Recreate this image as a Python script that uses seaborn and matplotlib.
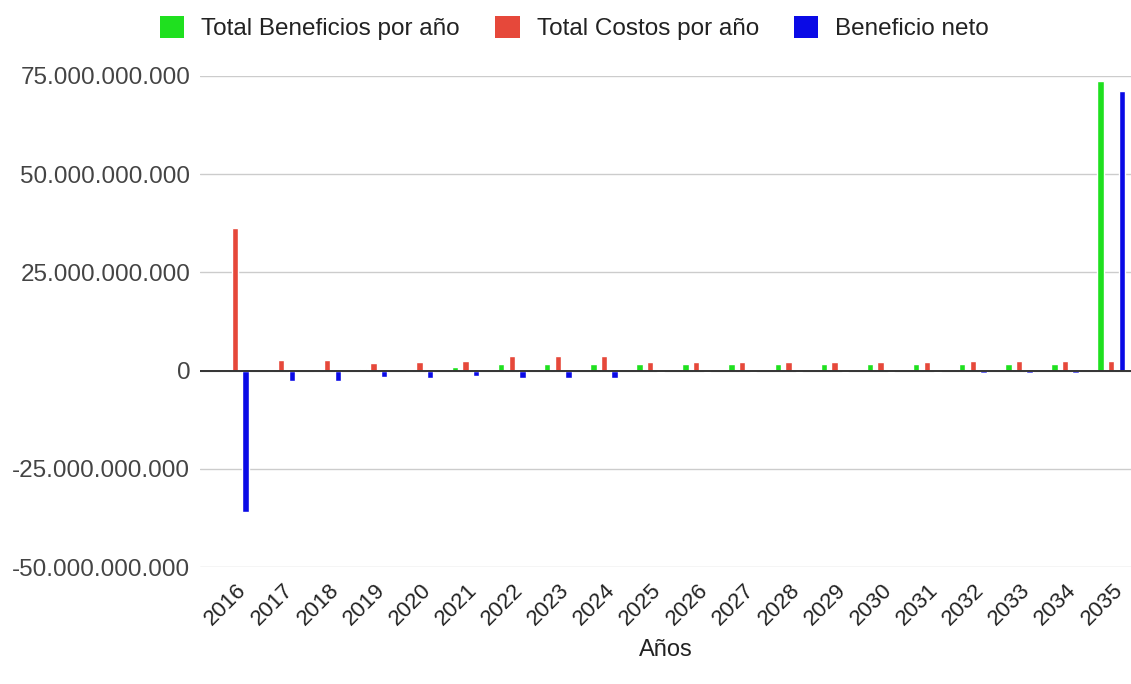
import matplotlib
matplotlib.use("Agg")
import matplotlib.pyplot as plt
import matplotlib.ticker as mticker
import matplotlib.transforms as mtransforms
from matplotlib.patches import Patch
import pandas as pd
import seaborn as sns

# Years of the evaluation horizon
anios = [str(a) for a in range(2016, 2036)]

# Values per year (pesos)
beneficios = [0.2e9, 0.0, 0.0, 0.4e9, 0.2e9, 1.0e9, 1.6e9, 1.6e9, 1.6e9, 1.7e9,
              1.7e9, 1.7e9, 1.7e9, 1.7e9, 1.7e9, 1.7e9, 1.7e9, 1.7e9, 1.7e9, 73.7e9]
costos = [36.2e9, 2.6e9, 2.6e9, 2.0e9, 2.2e9, 2.5e9, 3.6e9, 3.6e9, 3.6e9, 2.1e9,
          2.1e9, 2.1e9, 2.1e9, 2.1e9, 2.1e9, 2.1e9, 2.4e9, 2.4e9, 2.4e9, 2.4e9]
neto = [-36.0e9, -2.6e9, -2.6e9, -1.6e9, -2.0e9, -1.5e9, -2.0e9, -2.0e9, -2.0e9, -0.4e9,
        -0.4e9, -0.4e9, -0.4e9, -0.4e9, -0.4e9, -0.4e9, -0.7e9, -0.7e9, -0.7e9, 71.3e9]

series = ["Total Beneficios por año", "Total Costos por año", "Beneficio neto"]
colores = ["#1fe01f", "#e6483a", "#0a0ae6"]

df = pd.concat([
    pd.DataFrame({"Año": anios, "valor": vals, "serie": nombre})
    for nombre, vals in zip(series, [beneficios, costos, neto])
])

sns.set_theme(style="white")
plt.rcParams["font.family"] = ["Liberation Sans", "DejaVu Sans"]

fig = plt.figure(figsize=(11.31, 6.84), dpi=100)
ax = fig.add_axes([200 / 1131, 1 - 567 / 684, 931 / 1131, (567 - 76) / 684])

sns.barplot(data=df, x="Año", y="valor", hue="serie", palette=colores,
            hue_order=series, order=anios, width=0.69, gap=0.4,
            legend=False, ax=ax, saturation=1)

ax.set_ylim(-50e9, 75e9)
ax.set_xlim(-0.76, 19.43)
ax.yaxis.set_major_locator(mticker.MultipleLocator(25e9))
ax.yaxis.set_major_formatter(
    mticker.FuncFormatter(lambda v, _: f"{v:,.0f}".replace(",", ".")))
ax.grid(axis="y", color="#cccccc", linewidth=1)
ax.set_axisbelow(True)
ax.axhline(0, color="#333333", linewidth=1.4, zorder=3)
for s in ax.spines.values():
    s.set_visible(False)

ax.tick_params(axis="y", length=0, pad=7, labelsize=17.5, labelcolor="#444444")
ax.tick_params(axis="x", length=0, pad=9, labelsize=16, labelcolor="#222222")
shift = mtransforms.ScaledTranslation(1 / 100, 0, fig.dpi_scale_trans)
for lab in ax.get_xticklabels():
    lab.set_rotation(45)
    lab.set_ha("right")
    lab.set_va("top")
    lab.set_rotation_mode("anchor")
    lab.set_transform(lab.get_transform() + shift)

ax.set_ylabel("")
ax.set_xlabel("Años", fontsize=17, color="#222222", labelpad=7)

handles = [Patch(facecolor=c, edgecolor="none", label=n) for n, c in zip(series, colores)]
fig.legend(handles=handles, loc="center", bbox_to_anchor=(0.508, 1 - 28 / 684),
           ncol=3, frameon=False, fontsize=17.5, handlelength=1.0, handleheight=1.0,
           handletextpad=0.7, columnspacing=1.45, labelcolor="#222222")

fig.savefig("out.png", dpi=100)
